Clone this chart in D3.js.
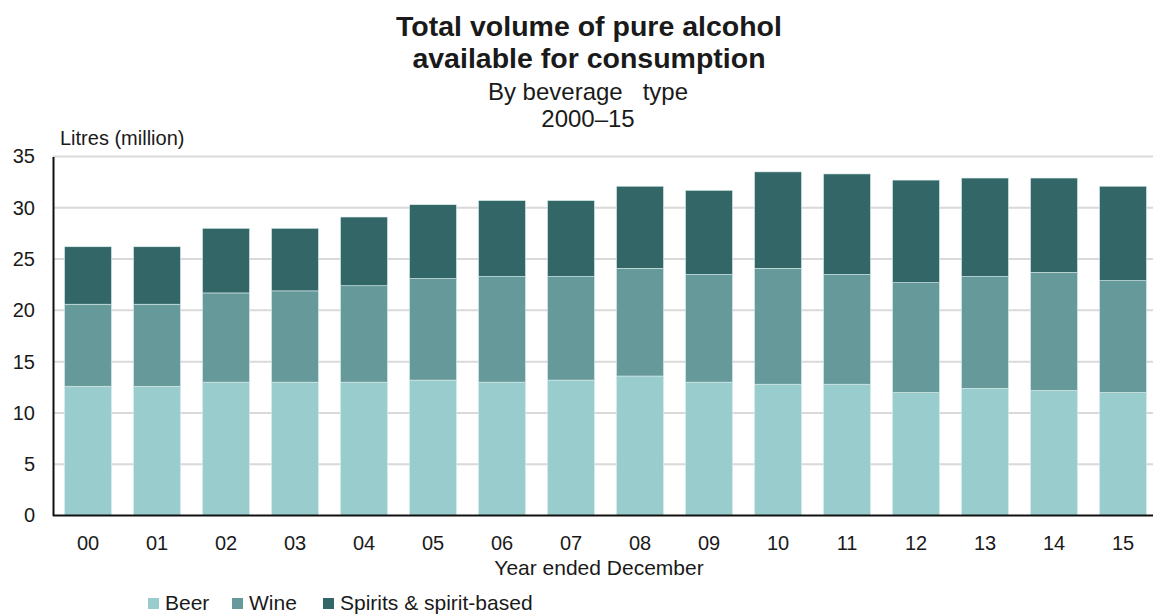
<!DOCTYPE html>
<html>
<head>
<meta charset="utf-8">
<script src="https://cdn.jsdelivr.net/npm/d3@7"></script>
<style>
  html, body { margin: 0; padding: 0; background: #fff; }
  svg { display: block; }
  text { font-family: "Liberation Sans", Arial, sans-serif; fill: #1a1a1a; }
</style>
</head>
<body>
<svg id="chart" width="1153" height="614"></svg>
<script>
// Year labels (2000–2015, ending December)
const years = ["00","01","02","03","04","05","06","07","08","09","10","11","12","13","14","15"];

// Litres of pure alcohol (million) by beverage type
const beer    = [12.6, 12.6, 13.0, 13.0, 13.0, 13.2, 13.0, 13.2, 13.6, 13.0, 12.8, 12.8, 12.0, 12.4, 12.2, 12.0];
const wine    = [ 8.0,  8.0,  8.7,  8.9,  9.4,  9.9, 10.3, 10.1, 10.5, 10.5, 11.3, 10.7, 10.7, 10.9, 11.5, 10.9];
const spirits = [ 5.6,  5.6,  6.3,  6.1,  6.7,  7.2,  7.4,  7.4,  8.0,  8.2,  9.4,  9.8, 10.0,  9.6,  9.2,  9.2];

const seriesNames = ["Beer", "Wine", "Spirits & spirit-based"];
const seriesKeys = ["beer", "wine", "spirits"];
const colours = ["#99cccc", "#669999", "#336666"];
const yTicks = [0, 5, 10, 15, 20, 25, 30, 35];

const rows = years.map((y, i) => ({ year: y, beer: beer[i], wine: wine[i], spirits: spirits[i] }));

const svg = d3.select("#chart");
const W = 1153;
const plotLeft = 53, plotBottom = 515.5, plotTop = 156.5;
const bodyFont = '"Liberation Sans", Arial, sans-serif';

const x = d3.scaleBand()
  .domain(years)
  .range([53.5, 1157.5])
  .paddingInner(0.32)
  .paddingOuter(0.16);

const y = d3.scaleLinear().domain([0, 35]).range([plotBottom, plotTop]);

// Horizontal gridlines
svg.append("g")
  .selectAll("line")
  .data(yTicks.filter(t => t > 0))
  .join("line")
  .attr("x1", plotLeft).attr("x2", W)
  .attr("y1", d => y(d)).attr("y2", d => y(d))
  .attr("stroke", "#d9d9d9")
  .attr("stroke-width", 2);

// Stacked bars
const stack = d3.stack().keys(seriesKeys)(rows);
svg.append("g")
  .selectAll("g")
  .data(stack)
  .join("g")
  .attr("fill", (d, i) => colours[i])
  .selectAll("rect")
  .data(d => d)
  .join("rect")
  .attr("x", d => x(d.data.year))
  .attr("width", x.bandwidth())
  .attr("y", d => y(d[1]))
  .attr("height", d => y(d[0]) - y(d[1]))
  .attr("stroke", "#d8ecec")
  .attr("stroke-width", 0.6);

// Y axis
const yAxis = svg.append("g")
  .attr("transform", `translate(${plotLeft},0)`)
  .call(d3.axisLeft(y).tickValues(yTicks).tickSize(0).tickPadding(18));
yAxis.select(".domain").attr("stroke", "#111").attr("stroke-width", 2);
yAxis.selectAll("text").attr("font-size", 20).attr("fill", "#1a1a1a")
  .style("font-family", bodyFont);

// X axis
const xAxis = svg.append("g")
  .attr("transform", `translate(0,${plotBottom})`)
  .call(d3.axisBottom(x).tickSize(0).tickPadding(20));
xAxis.select(".domain").attr("d", `M${plotLeft},0H${W}`).attr("stroke", "#111").attr("stroke-width", 2);
xAxis.selectAll("text").attr("font-size", 20).attr("fill", "#1a1a1a")
  .style("font-family", bodyFont);

// Titles
svg.append("text").attr("x", 589).attr("y", 36).attr("text-anchor", "middle")
  .attr("font-size", 28.5).attr("font-weight", "bold")
  .text("Total volume of pure alcohol");
svg.append("text").attr("x", 589).attr("y", 68).attr("text-anchor", "middle")
  .attr("font-size", 28.5).attr("font-weight", "bold")
  .text("available for consumption");
svg.append("text").attr("x", 588).attr("y", 100).attr("text-anchor", "middle")
  .attr("font-size", 24)
  .style("white-space", "pre")
  .text("By beverage   type");
svg.append("text").attr("x", 588).attr("y", 127).attr("text-anchor", "middle")
  .attr("font-size", 24)
  .text("2000–15");

// Y unit label
svg.append("text").attr("x", 60).attr("y", 145)
  .attr("font-size", 20)
  .text("Litres (million)");

// X title
svg.append("text").attr("x", 599).attr("y", 575).attr("text-anchor", "middle")
  .attr("font-size", 21)
  .text("Year ended December");

// Legend
const legendX = [148, 232, 323];
const lg = svg.append("g").selectAll("g")
  .data(seriesNames)
  .join("g")
  .attr("transform", (d, i) => `translate(${legendX[i]},598)`);
lg.append("rect").attr("width", 11).attr("height", 11).attr("fill", (d, i) => colours[i]);
lg.append("text").attr("x", 17).attr("y", 12).attr("font-size", 21).text(d => d);
</script>
</body>
</html>
